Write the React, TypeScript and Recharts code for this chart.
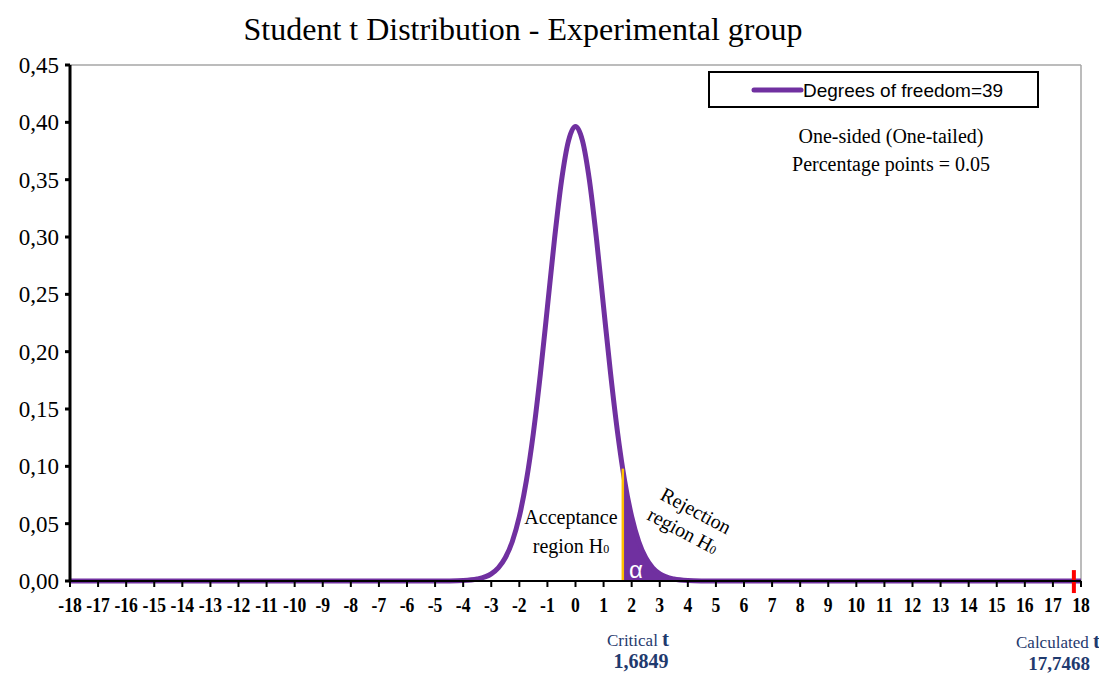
import React from "react";
import { ComposedChart, Line, Area, XAxis, YAxis, ReferenceLine } from "recharts";

const tValues = [-18, -12, -8, -6, -5, -4.5, -4, -3.5, -3, -2.75, -2.5, -2.25, -2, -1.75, -1.5, -1.25, -1, -0.75, -0.5, -0.25, 0, 0.25, 0.5, 0.75, 1, 1.25, 1.5, 1.6849, 1.75, 2, 2.25, 2.5, 2.75, 3, 3.5, 4, 4.5, 5, 6, 8, 12, 18];
const density = [0, 0, 0, 0, 0.00002, 0.0001, 0.0004, 0.0017, 0.0062, 0.0115, 0.0203, 0.0345, 0.0562, 0.0874, 0.1291, 0.1807, 0.2389, 0.2977, 0.3488, 0.3839, 0.3964, 0.3839, 0.3488, 0.2977, 0.2389, 0.1807, 0.1291, 0.0972, 0.0874, 0.0562, 0.0345, 0.0203, 0.0115, 0.0062, 0.0017, 0.0004, 0.0001, 0.00002, 0, 0, 0, 0];
const criticalT = 1.6849;
const calculatedT = 17.7468;
const tailEnd = 3.5;
const xTicks = [-18, -17, -16, -15, -14, -13, -12, -11, -10, -9, -8, -7, -6, -5, -4, -3, -2, -1, 0, 1, 2, 3, 4, 5, 6, 7, 8, 9, 10, 11, 12, 13, 14, 15, 16, 17, 18];
const yTicks = [0, 0.05, 0.1, 0.15, 0.2, 0.25, 0.3, 0.35, 0.4, 0.45];
const seriesName = "Degrees of freedom=39";

const data = tValues.map((t, i) => ({
  t,
  y: density[i],
  tail: t >= criticalT && t <= tailEnd ? density[i] : null,
}));

const PURPLE = "#7030A0";
const NAVY = "#1F3A6E";
const SERIF = "'Liberation Serif', 'Times New Roman', serif";
const SANS = "'Liberation Sans', Arial, sans-serif";

const XTick = (props: any) => {
  const { x, y, payload } = props;
  return (
    <g transform={`translate(${x},${y})`}>
      <text
        transform="scale(0.8,1)"
        textAnchor="middle"
        dy="0.71em"
        fontFamily={SERIF}
        fontWeight="bold"
        fontSize={22}
        fill="#000"
      >
        {payload.value}
      </text>
    </g>
  );
};

const YTick = (props: any) => {
  const { x, y, payload } = props;
  return (
    <text x={x} y={y} dy="0.35em" textAnchor="end" fontFamily={SERIF} fontSize={23} fill="#000">
      {Number(payload.value).toFixed(2).replace(".", ",")}
    </text>
  );
};

export default function App() {
  return (
    <div style={{ position: "absolute", left: 0, top: 0, width: 1099, height: 675, background: "#fff" }}>
      <ComposedChart
        width={1099}
        height={675}
        data={data}
        margin={{ top: 65, right: 18, left: 0, bottom: 0 }}
      >
        <XAxis
          dataKey="t"
          type="number"
          domain={[-18, 18]}
          ticks={xTicks}
          interval={0}
          height={94}
          axisLine={{ stroke: "#000", strokeWidth: 2 }}
          tickLine={{ stroke: "#000", strokeWidth: 2 }}
          tickSize={6}
          tickMargin={9}
          tick={<XTick />}
          allowDataOverflow
        />
        <YAxis
          type="number"
          domain={[0, 0.45]}
          ticks={yTicks}
          interval={0}
          width={70}
          axisLine={{ stroke: "#000", strokeWidth: 3 }}
          tickLine={{ stroke: "#000", strokeWidth: 3 }}
          tickSize={5}
          tickMargin={6}
          tick={<YTick />}
        />
        <ReferenceLine y={0.45} stroke="#A6A6A6" strokeWidth={1.5} />
        <ReferenceLine x={18} stroke="#A6A6A6" strokeWidth={1.5} />
        <Area
          dataKey="tail"
          type="monotone"
          fill={PURPLE}
          fillOpacity={1}
          stroke="none"
          baseValue={0}
          connectNulls={false}
          isAnimationActive={false}
        />
        <Line
          dataKey="y"
          name={seriesName}
          type="monotone"
          stroke={PURPLE}
          strokeWidth={5}
          dot={false}
          isAnimationActive={false}
        />
        <ReferenceLine
          segment={[{ x: criticalT, y: 0 }, { x: criticalT, y: 0.098 }]}
          stroke="#FFC000"
          strokeWidth={2.5}
        />
        <ReferenceLine
          segment={[{ x: calculatedT, y: -0.0105 }, { x: calculatedT, y: 0.0095 }]}
          stroke="#FF0000"
          strokeWidth={4}
          ifOverflow="visible"
        />
      </ComposedChart>

      <svg
        width={1099}
        height={675}
        style={{ position: "absolute", left: 0, top: 0, pointerEvents: "none" }}
      >
        <text x={523} y={40} textAnchor="middle" fontFamily={SERIF} fontSize={32} fill="#000">
          Student t Distribution - Experimental group
        </text>

        <rect x={709} y={72} width={329} height={35} fill="#fff" stroke="#000" strokeWidth={2} />
        <line x1={754} y1={90} x2={801} y2={90} stroke={PURPLE} strokeWidth={5} strokeLinecap="round" />
        <text x={803} y={97} fontFamily={SANS} fontSize={19} fill="#000">
          {seriesName}
        </text>

        <text x={891} y={143} textAnchor="middle" fontFamily={SERIF} fontSize={20} fill="#000">
          One-sided (One-tailed)
        </text>
        <text x={891} y={171} textAnchor="middle" fontFamily={SERIF} fontSize={20} fill="#000">
          Percentage points = 0.05
        </text>

        <text x={571} y={524} textAnchor="middle" fontFamily={SERIF} fontSize={20} fill="#000">
          Acceptance
        </text>
        <text x={571} y={553} textAnchor="middle" fontFamily={SERIF} fontSize={20} fill="#000">
          region H<tspan fontSize={12}>0</tspan>
        </text>

        <g transform="translate(690,522) rotate(28)">
          <text x={0} y={-6} textAnchor="middle" fontFamily={SERIF} fontSize={20} fill="#000">
            Rejection
          </text>
          <text x={-2} y={18} textAnchor="middle" fontFamily={SERIF} fontSize={20} fill="#000">
            region H<tspan fontSize={12}>0</tspan>
          </text>
        </g>

        <text x={636} y={578} textAnchor="middle" fontFamily={SANS} fontSize={24} fill="#fff">
          α
        </text>

        <text x={638} y={646} textAnchor="middle" fill={NAVY} fontFamily={SERIF}>
          <tspan fontSize={17}>Critical </tspan>
          <tspan fontSize={21} fontWeight="bold">t</tspan>
        </text>
        <text x={641} y={668} textAnchor="middle" fill={NAVY} fontFamily={SERIF} fontSize={20} fontWeight="bold">
          1,6849
        </text>

        <text x={1058} y={648} textAnchor="middle" fill={NAVY} fontFamily={SERIF}>
          <tspan fontSize={17}>Calculated </tspan>
          <tspan fontSize={21} fontWeight="bold">t</tspan>
        </text>
        <text x={1059} y={670} textAnchor="middle" fill={NAVY} fontFamily={SERIF} fontSize={19} fontWeight="bold">
          17,7468
        </text>
      </svg>
    </div>
  );
}
